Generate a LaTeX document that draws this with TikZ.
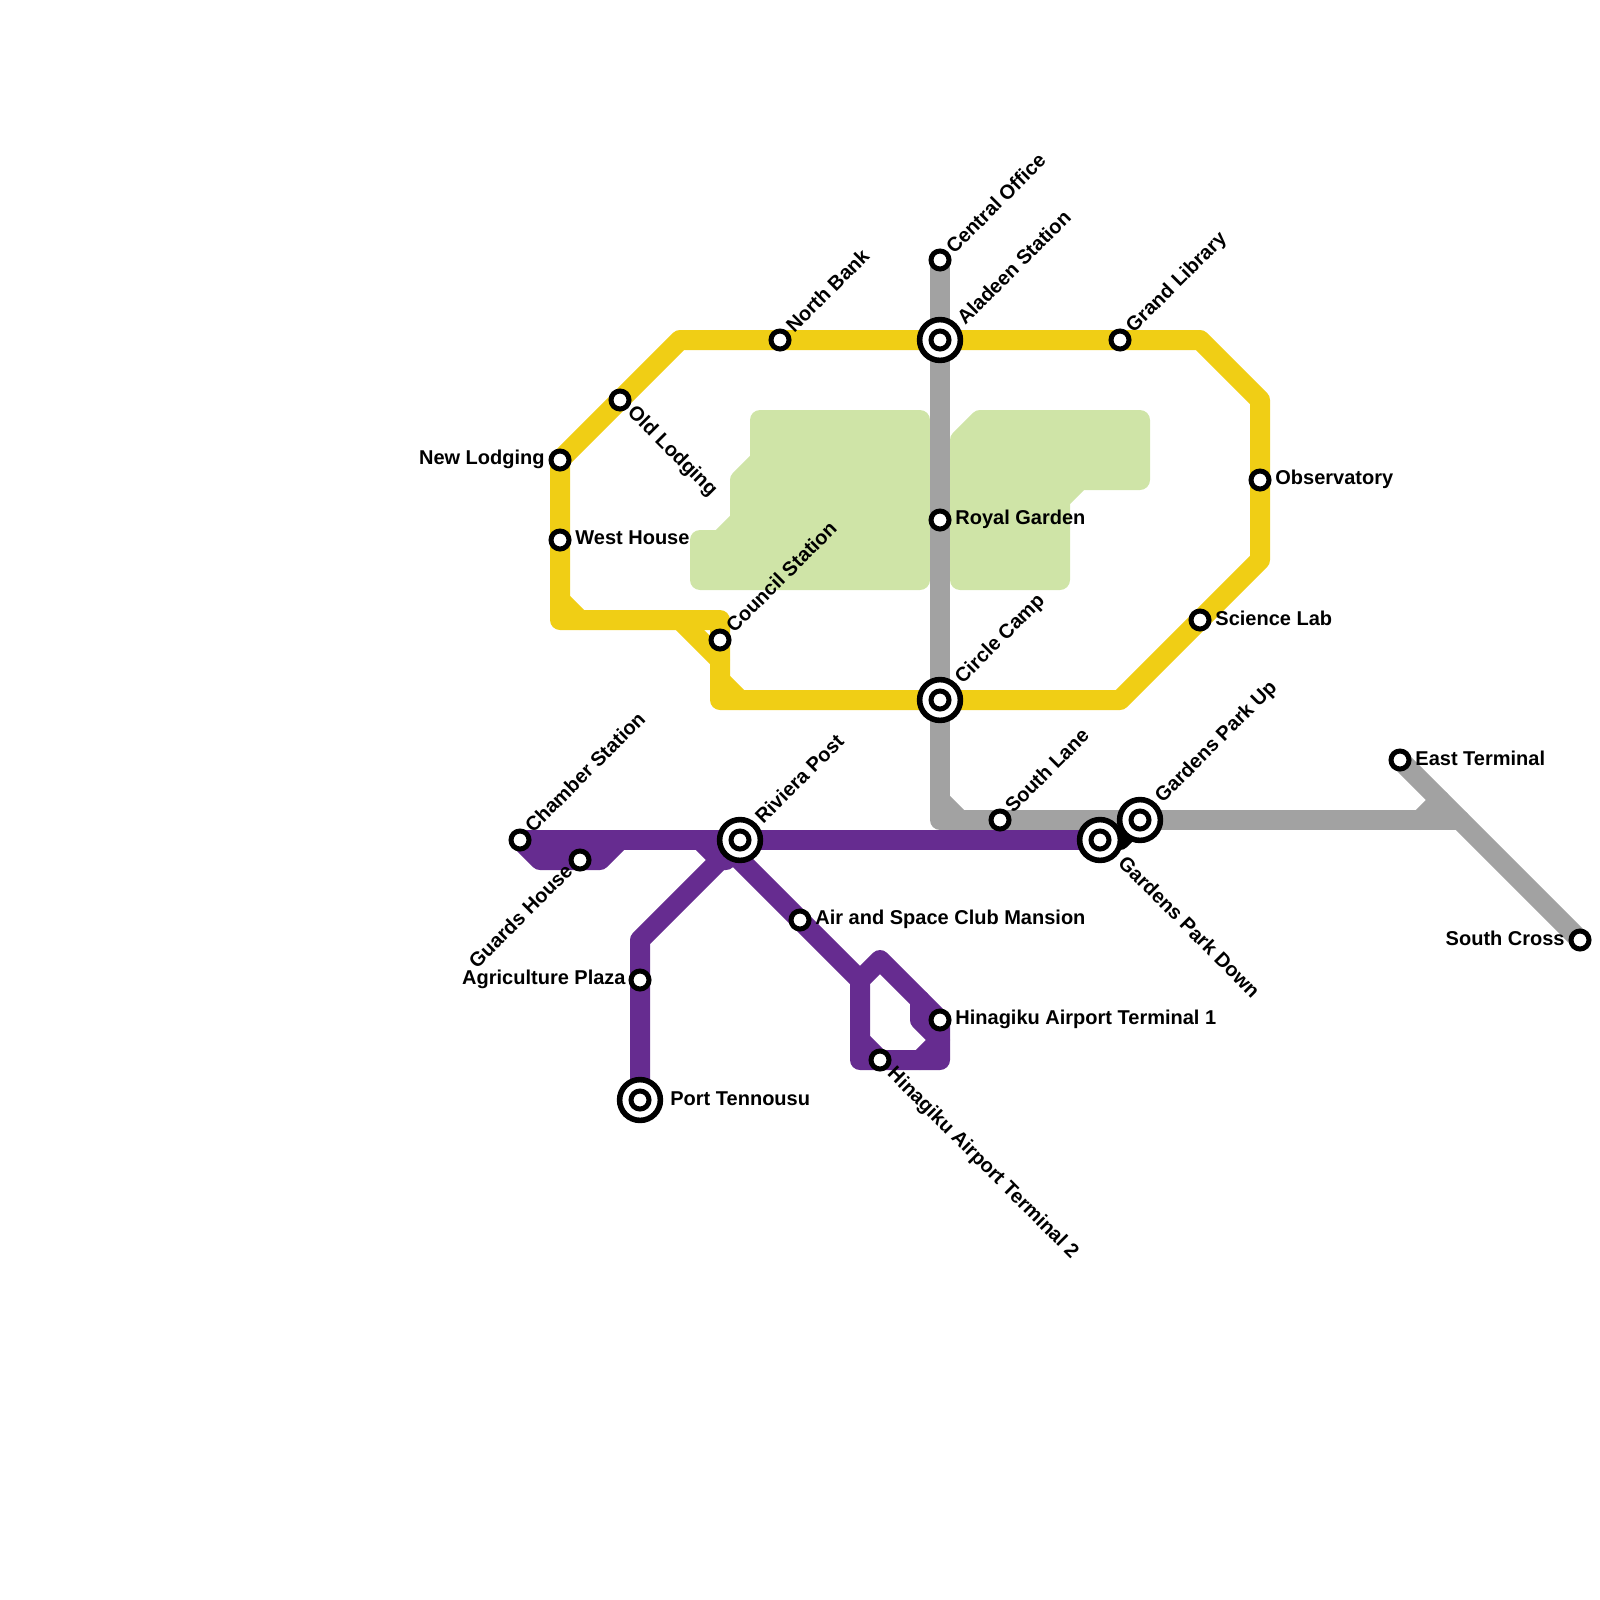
\documentclass[tikz,border=0pt]{standalone}
\usepackage{fontspec}
\setmainfont{Liberation Sans}
\definecolor{lyellow}{HTML}{F0CE15}
\definecolor{lgrey}{HTML}{A2A2A2}
\definecolor{lpurple}{HTML}{662C90}
\definecolor{lgreen}{HTML}{CFE4A7}
\tikzset{
  metro/.style={line width=10pt,line cap=round,line join=round},
  park/.style={draw=lgreen,fill=lgreen,line width=10pt,line join=round},
  stn/.style={circle,draw=black,fill=white,line width=2.5pt,minimum size=9pt,inner sep=0pt,outer sep=0pt},
  hub/.style={circle,draw=black,fill=white,line width=2.8pt,minimum size=20.4pt,inner sep=0pt,outer sep=0pt},
  lab/.style={font=\fontsize{10}{12}\selectfont\bfseries,inner sep=0pt,text=black},
  nw/.style={lab,anchor=west},
  ne/.style={lab,anchor=east},
  up/.style={lab,anchor=west,rotate=45},
  dn/.style={lab,anchor=west,rotate=-45},
  upend/.style={lab,anchor=east,rotate=45},
}
\begin{document}
\begin{tikzpicture}[x=0.5pt,y=-0.5pt]
\useasboundingbox (0,0) rectangle (1600,1600);
% parks
\path[park] (760,420)--(920,420)--(920,580)--(700,580)--(700,540)--(720,540)--(740,520)--(740,480)--(760,460)--cycle;
\path[park] (960,440)--(980,420)--(1140,420)--(1140,480)--(1080,480)--(1060,500)--(1060,580)--(960,580)--cycle;
% station positions
\foreach \n/\x/\y in {central/940/260,aladeen/940/340,grand/1120/340,north/780/340,old/620/400,newl/560/460,west/560/540,council/720/640,circle/940/700,royal/940/520,observ/1260/480,science/1200/620,south/1000/820,gup/1140/820,gdown/1100/840,east/1400/760,cross/1580/940,chamber/520/840,guards/580/860,riviera/740/840,air/800/920,agri/640/980,port/640/1100,hone/940/1020,htwo/880/1060}
  \coordinate (p\n) at (\x,\y);
% bends
\foreach \n/\x/\y in {a/680/340,b/560/620,c/720/620,d/720/700,e/1120/700,f/1260/560,g/1260/400,h/1200/340,b1/560/600,b2/580/620,c1/680/620,c2/720/660,d1/720/680,d2/740/700,
  i/940/820,i1/940/800,i2/960/820,j/1460/820,j1/1420/820,j2/1440/800,
  k1/540/860,k2/600/860,k3/620/840,m1/700/840,m2/720/860,m3/726/860,m4/720/840,n/640/940,o/860/980,q/860/1060,r/940/1060,s/880/960,t1/920/1000,t2/920/1020,t3/940/1040,t4/920/1060,u1/860/1040,v/1120/840}
  \coordinate (\n) at (\x,\y);
% grey line
\draw[metro,lgrey] (pcentral)--(i)--(pgup)--(j);
\draw[metro,lgrey] (i1)--(i2);
\draw[metro,lgrey] (peast)--(pcross);
\draw[metro,lgrey] (j1)--(j2);
% yellow line
\draw[metro,lyellow] (paladeen)--(pnorth)--(a)--(pold)--(pnewl)--(pwest)--(b)--(c)--(pcouncil)--(d)--(pcircle)--(e)--(f)--(pobserv)--(g)--(h)--(pgrand)--cycle;
\draw[metro,lyellow] (b1)--(b2);
\draw[metro,lyellow] (c1)--(c2);
\draw[metro,lyellow] (d1)--(d2);
% purple line
\draw[metro,lpurple] (pchamber)--(priviera)--(pgdown);
\draw[metro,lpurple] (pchamber)--(k1)--(pguards)--(k2)--(k3);
\draw[metro,lpurple] (m1)--(m2)--(m3);
\draw[metro,lpurple] (priviera)--(n)--(pagri)--(pport);
\draw[metro,lpurple] (m4)--(pair)--(o)--(q)--(phtwo)--(r)--(phone)--(s)--(o);
\draw[metro,lpurple] (t1)--(t2)--(t3);
\draw[metro,lpurple] (t4)--(t3);
\draw[metro,lpurple] (u1)--(phtwo);
% link between the two Gardens Park stations
\draw[metro,black] (pgdown)--(v)--(pgup);
% stations
\node[stn] (central) at (pcentral) {};
\node[hub] (aladeen) at (paladeen) {};
\node[stn] (aladeenI) at (paladeen) {};
\node[stn] (grand) at (pgrand) {};
\node[stn] (north) at (pnorth) {};
\node[stn] (old) at (pold) {};
\node[stn] (newl) at (pnewl) {};
\node[stn] (west) at (pwest) {};
\node[stn] (council) at (pcouncil) {};
\node[hub] (circle) at (pcircle) {};
\node[stn] (circleI) at (pcircle) {};
\node[stn] (royal) at (proyal) {};
\node[stn] (observ) at (pobserv) {};
\node[stn] (science) at (pscience) {};
\node[stn] (south) at (psouth) {};
\node[hub] (gdown) at (pgdown) {};
\node[stn] (gdownI) at (pgdown) {};
\node[hub] (gup) at (pgup) {};
\node[stn] (gupI) at (pgup) {};
\node[stn] (east) at (peast) {};
\node[stn] (cross) at (pcross) {};
\node[stn] (chamber) at (pchamber) {};
\node[stn] (guards) at (pguards) {};
\node[hub] (riviera) at (priviera) {};
\node[stn] (rivieraI) at (priviera) {};
\node[stn] (air) at (pair) {};
\node[stn] (agri) at (pagri) {};
\node[hub] (port) at (pport) {};
\node[stn] (portI) at (pport) {};
\node[stn] (hone) at (phone) {};
\node[stn] (htwo) at (phtwo) {};
% labels
\node[up] (lcentral) at (949,250) {Central Office};
\node[up] (laladeen) at (960,321) {Aladeen Station};
\node[up] (lgrand) at (1130,330) {Grand Library};
\node[up] (lnorth) at (789,329) {North Bank};
\node[dn] (lold) at (630,410) {Old Lodging};
\node[ne] (lnewl) at (545,459) {New Lodging};
\node[nw] (lwest) at (575,538) {West House};
\node[up] (lcouncil) at (729,629) {Council Station};
\node[up] (lcircle) at (959,681) {Circle Camp};
\node[nw] (lroyal) at (955,519) {Royal Garden};
\node[nw] (lobserv) at (1275,479) {Observatory};
\node[nw] (lscience) at (1215,618) {Science Lab};
\node[up] (lsouth) at (1008,809) {South Lane};
\node[up] (lgup) at (1159,800) {Gardens Park Up};
\node[dn] (lgdown) at (1122,859) {Gardens Park Down};
\node[nw] (least) at (1415,758) {East Terminal};
\node[ne] (lcross) at (1565,938) {South Cross};
\node[up] (lchamber) at (528,829) {Chamber Station};
\node[upend] (lguards) at (569,867) {Guards House};
\node[up] (lriviera) at (758,820) {Riviera Post};
\node[nw] (lair) at (815,919) {Air and Space Club Mansion};
\node[ne] (lagri) at (626,979) {Agriculture Plaza};
\node[nw] (lport) at (670,1099) {Port Tennousu};
\node[nw] (lhone) at (955,1019) {Hinagiku Airport Terminal 1};
\node[dn] (lhtwo) at (890,1071) {Hinagiku Airport Terminal 2};
\end{tikzpicture}
\end{document}
